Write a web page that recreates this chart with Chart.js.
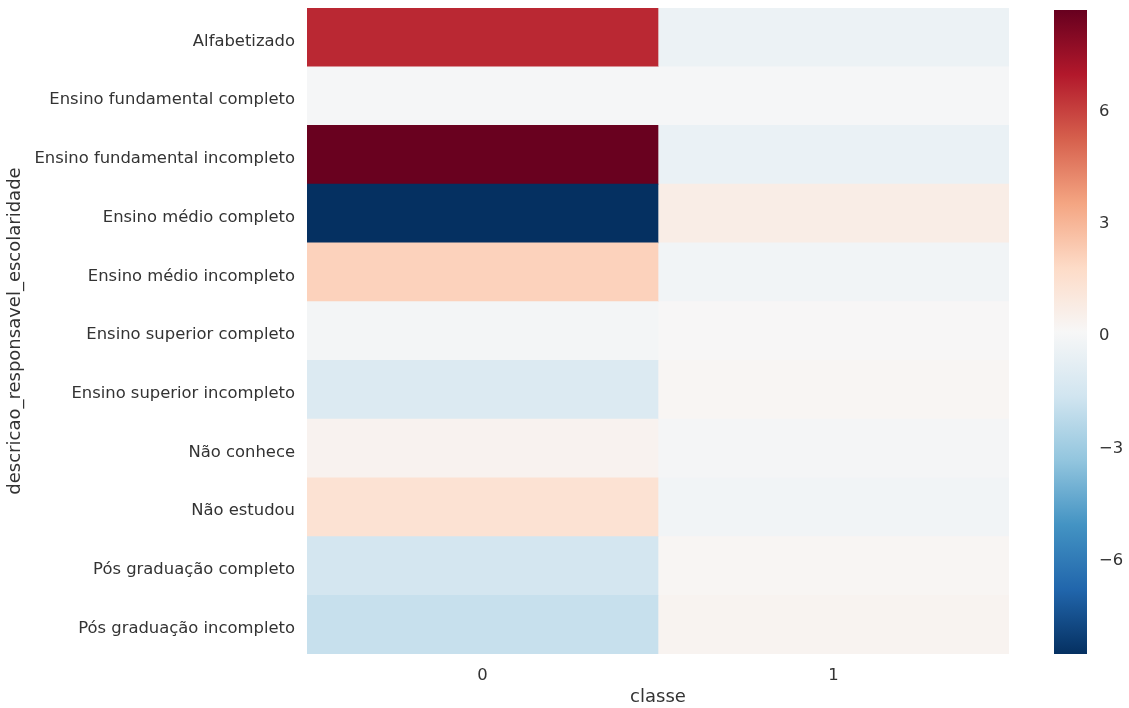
<!DOCTYPE html>
<html>
<head>
<meta charset="utf-8">
<script src="https://cdn.jsdelivr.net/npm/chart.js@4/dist/chart.umd.min.js"></script>
<style>
  body { margin: 0; background: #fff; }
  #wrap { position: relative; width: 1129px; height: 708px; }
  #heat { position: absolute; left: 0; top: 0; }
  #cbar { position: absolute; left: 1040px; top: 0; }
</style>
</head>
<body>
<div id="wrap">
  <canvas id="heat" width="1040" height="708"></canvas>
  <canvas id="cbar" width="89" height="708"></canvas>
</div>
<script>
const rowLabels = [
  'Alfabetizado',
  'Ensino fundamental completo',
  'Ensino fundamental incompleto',
  'Ensino médio completo',
  'Ensino médio incompleto',
  'Ensino superior completo',
  'Ensino superior incompleto',
  'Não conhece',
  'Não estudou',
  'Pós graduação completo',
  'Pós graduação incompleto'
];
const colLabels = [0, 1];
const classe0 = [6.5, -0.1, 8.55, -8.6, 2.0, -0.2, -1.2, 0.3, 1.3, -1.6, -2.0];
const classe1 = [-0.5, -0.1, -0.6, 0.6, -0.25, 0.05, 0.15, -0.15, -0.25, 0.15, 0.25];
const cbarTicks = [-6, -3, 0, 3, 6];
const vmin = -8.6;
const vmax = 8.6;

// RdBu_r
const rdbu = ['#053061', '#2166ac', '#4393c3', '#92c5de', '#d1e5f0', '#f7f7f7',
              '#fddbc7', '#f4a582', '#d6604d', '#b2182b', '#67001f'];

function hexToRgb(h) {
  return [parseInt(h.slice(1, 3), 16), parseInt(h.slice(3, 5), 16), parseInt(h.slice(5, 7), 16)];
}

function colorFor(v) {
  let t = (v - vmin) / (vmax - vmin);
  t = Math.max(0, Math.min(1, t)) * (rdbu.length - 1);
  const i = Math.min(Math.floor(t), rdbu.length - 2);
  const f = t - i;
  const a = hexToRgb(rdbu[i]), b = hexToRgb(rdbu[i + 1]);
  const c = a.map((x, k) => Math.round(x + (b[k] - x) * f));
  return `rgb(${c[0]}, ${c[1]}, ${c[2]})`;
}

const textColor = '#333333';
const fontFamily = '"DejaVu Sans", sans-serif';
const tickSize = 16.4;

const columns = [classe0, classe1];

new Chart(document.getElementById('heat'), {
  type: 'bar',
  data: {
    labels: rowLabels,
    datasets: columns.map((vals, c) => ({
      data: vals.map(() => [colLabels[c] - 0.5, colLabels[c] + 0.5]),
      backgroundColor: vals.map(colorFor),
      borderWidth: 0,
      borderSkipped: false,
      grouped: false,
      barPercentage: 1,
      categoryPercentage: 1
    }))
  },
  options: {
    indexAxis: 'y',
    responsive: false,
    animation: false,
    layout: { padding: { top: 8, right: 31, left: 0, bottom: 0 } },
    plugins: { legend: { display: false }, tooltip: { enabled: false } },
    scales: {
      x: {
        type: 'linear',
        min: -0.5,
        max: 1.5,
        grid: { display: false, drawTicks: false },
        border: { display: false },
        afterBuildTicks: (scale) => { scale.ticks = colLabels.map(v => ({ value: v })); },
        afterFit: (scale) => {
          scale.height = 54;
          scale.paddingLeft = 0;
          scale.paddingRight = 0;
        },
        ticks: {
          padding: 12,
          color: textColor,
          font: { family: fontFamily, size: tickSize },
          callback: (v) => String(v)
        },
        title: {
          display: true,
          text: 'classe',
          color: textColor,
          font: { family: fontFamily, size: 18 },
          padding: { top: 0, bottom: 0 }
        }
      },
      y: {
        type: 'category',
        grid: { display: false, drawTicks: false },
        border: { display: false },
        afterFit: (scale) => {
          scale.width = 307;
          scale.paddingTop = 0;
          scale.paddingBottom = 0;
        },
        ticks: {
          padding: 12,
          labelOffset: 4,
          color: textColor,
          font: { family: fontFamily, size: tickSize }
        },
        title: {
          display: true,
          text: 'descricao_responsavel_escolaridade',
          color: textColor,
          font: { family: fontFamily, size: 18 },
          padding: { top: 5, bottom: 0 }
        }
      }
    }
  }
});

// colour bar: one floating bar filled with the colormap gradient
new Chart(document.getElementById('cbar'), {
  type: 'bar',
  data: {
    labels: [''],
    datasets: [{
      data: [[vmin, vmax]],
      borderWidth: 0,
      borderSkipped: false,
      barPercentage: 1,
      categoryPercentage: 1,
      backgroundColor: (ctx) => {
        const y = ctx.chart.scales.y;
        const y0 = y ? y.getPixelForValue(vmin) : NaN;
        const y1 = y ? y.getPixelForValue(vmax) : NaN;
        if (!isFinite(y0) || !isFinite(y1)) return '#f7f7f7';
        const g = ctx.chart.ctx.createLinearGradient(0, y0, 0, y1);
        rdbu.forEach((c, i) => g.addColorStop(i / (rdbu.length - 1), c));
        return g;
      }
    }]
  },
  options: {
    responsive: false,
    animation: false,
    layout: { padding: { top: 10, bottom: 54, left: 14, right: 0 } },
    plugins: { legend: { display: false }, tooltip: { enabled: false } },
    scales: {
      x: { display: false },
      y: {
        position: 'right',
        min: vmin,
        max: vmax,
        grid: { display: false, drawTicks: false },
        border: { display: false },
        afterBuildTicks: (scale) => { scale.ticks = cbarTicks.map(v => ({ value: v })); },
        afterFit: (scale) => {
          scale.width = 42;
          scale.paddingTop = 0;
          scale.paddingBottom = 0;
        },
        ticks: {
          padding: 12,
          labelOffset: 4,
          color: textColor,
          font: { family: fontFamily, size: tickSize },
          callback: (v) => v < 0 ? '\u2212' + Math.abs(v) : String(v)
        }
      }
    }
  }
});
</script>
</body>
</html>
